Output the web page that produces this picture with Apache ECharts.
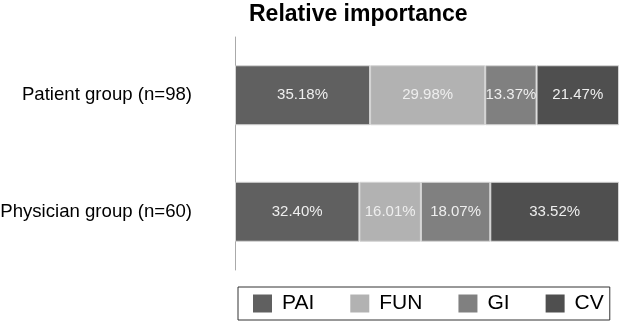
<!DOCTYPE html>
<html>
<head>
<meta charset="utf-8">
<script src="https://cdn.jsdelivr.net/npm/echarts@6/dist/echarts.min.js"></script>
<style>
    html, body { margin: 0; padding: 0; background: #fff; }
    #chart { width: 622px; height: 327px; }
</style>
</head>
<body>
<div id="chart"></div>
<script>
// 分组
var categories = ['Patient group (n=98)', 'Physician group (n=60)'];
var seriesNames = ['PAI', 'FUN', 'GI', 'CV'];
// 各组相对重要性(%)
var paiValues = [35.18, 32.40];
var funValues = [29.98, 16.01];
var giValues = [13.37, 18.07];
var cvValues = [21.47, 33.52];
var colors = ['#606060', '#b2b2b2', '#808080', '#4f4f4f'];

var fontName = '"Liberation Sans", Arial, sans-serif';

function makeSeries(name, data, color) {
    return {
        name: name,
        type: 'bar',
        stack: 'total',
        barWidth: 60,
        data: data,
        itemStyle: {
            color: color,
            borderColor: '#d4d4d4',
            borderWidth: 1
        },
        label: {
            show: true,
            position: 'inside',
            color: '#eeeeee',
            fontFamily: fontName,
            fontSize: 15,
            formatter: function(p) {
                return p.value.toFixed(2) + '%';
            }
        }
    };
}

var chart = echarts.init(document.getElementById('chart'));
var option = {
    animation: false,
    textStyle: { fontFamily: fontName },
    title: {
        text: 'Relative importance',
        left: 249,
        top: 3,
        padding: 0,
        textStyle: {
            fontFamily: fontName,
            fontSize: 23,
            fontWeight: 'bold',
            color: '#000'
        }
    },
    legend: {
        data: seriesNames,
        left: 238,
        top: 287,
        itemWidth: 19,
        itemHeight: 18,
        itemGap: 36,
        icon: 'rect',
        itemStyle: { borderWidth: 0 },
        borderColor: '#333',
        borderWidth: 1,
        borderRadius: 0,
        padding: [6, 6, 6, 15],
        textStyle: {
            fontFamily: fontName,
            fontSize: 21,
            color: '#000',
            padding: [0, 0, 0, 5]
        }
    },
    grid: {
        left: 235,
        right: 3,
        top: 37,
        bottom: 57,
        containLabel: false,
        outerBoundsMode: 'none'
    },
    xAxis: {
        type: 'value',
        min: 0,
        max: 100,
        show: false
    },
    yAxis: {
        type: 'category',
        inverse: true,
        data: categories,
        axisLine: { lineStyle: { color: '#aaaaaa', width: 1 } },
        axisTick: { show: false },
        axisLabel: {
            margin: 43,
            color: '#000',
            fontFamily: fontName,
            fontSize: 18.6
        }
    },
    series: [
        makeSeries(seriesNames[0], paiValues, colors[0]),
        makeSeries(seriesNames[1], funValues, colors[1]),
        makeSeries(seriesNames[2], giValues, colors[2]),
        makeSeries(seriesNames[3], cvValues, colors[3])
    ]
};
chart.setOption(option);
</script>
</body>
</html>
